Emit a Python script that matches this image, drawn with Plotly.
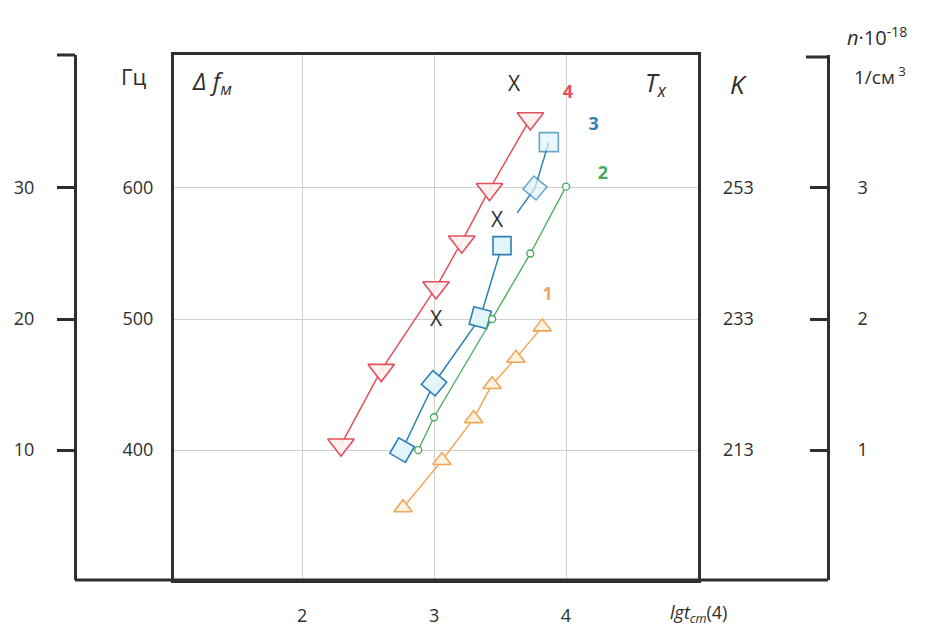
import plotly.graph_objects as go

# ---------------- data ----------------
x_ticks = [2, 3, 4]
y_ticks = [400, 500, 600]
hz_ticks = [10, 20, 30]
k_ticks = [213, 233, 253]
n_ticks = [1, 2, 3]

c4_x = [2.295, 2.60, 3.015, 3.21, 3.42, 3.73]
c4_y = [404, 461, 524, 559, 599, 653]

c3a_x = [2.758, 3.0, 3.35, 3.515]
c3a_y = [400, 451, 501, 556]
c3a_ang = [30, 40, 15, 0]
c3b_x = [3.63, 3.765, 3.87]
c3b_y = [581, 600, 635]
c3b_ang = [0, 40, 0]
c3b_size = [0, 17, 19]

c2_x = [2.88, 3.0, 3.44, 3.73, 4.0]
c2_y = [400, 425, 500, 550, 601]

c1_x = [2.765, 3.06, 3.30, 3.44, 3.62, 3.82]
c1_y = [356, 392, 424, 450, 470, 494]

xmark_x = [3.606, 3.477, 3.015]
xmark_y = [678, 574, 499]

lbl_text = ["4", "3", "2", "1"]
lbl_x = [4.015, 4.21, 4.28, 3.86]
lbl_y = [672, 648, 610, 518]

RED = "#e2505c"
BLUE = "#2f7fb5"
GREEN = "#45aa5e"
ORANGE = "#f0a85a"
DARK = "#2e2e2e"
FONT = "Open Sans"

# ---------------- geometry helpers ----------------
L, R, T, B = 75, 828, 55, 580  # outer frame pixels
def px(p):
    return (p - L) / (R - L)
def py(p):
    return (B - p) / (B - T)

XR = [1.03, 5.0]
YR = [300.8, 701.5]

fig = go.Figure()

fig.add_trace(go.Scatter(x=c4_x, y=c4_y, mode="lines+markers",
                         line=dict(color=RED, width=1.5),
                         marker=dict(symbol="triangle-down", size=23, color="rgba(255,242,242,0.9)",
                                     line=dict(color=RED, width=1.6))))
fig.add_trace(go.Scatter(x=c3a_x, y=c3a_y, mode="lines+markers",
                         line=dict(color=BLUE, width=1.5),
                         marker=dict(symbol="square", size=18, angle=c3a_ang, color="#e2f5fb",
                                     line=dict(color=BLUE, width=1.6))))
fig.add_trace(go.Scatter(x=c3b_x, y=c3b_y, mode="lines+markers",
                         line=dict(color=BLUE, width=1.5),
                         marker=dict(symbol="square", size=c3b_size, angle=c3b_ang, color="#e2f5fb",
                                     line=dict(color=BLUE, width=1.6))))
fig.add_trace(go.Scatter(x=c2_x, y=c2_y, mode="lines+markers",
                         line=dict(color=GREEN, width=1.3),
                         marker=dict(symbol="circle", size=7, color="white",
                                     line=dict(color=GREEN, width=1.3))))
fig.add_trace(go.Scatter(x=c1_x, y=c1_y, mode="lines+markers",
                         line=dict(color=ORANGE, width=1.5),
                         marker=dict(symbol="triangle-up", size=16, color="#fdf1e0",
                                     line=dict(color=ORANGE, width=1.6))))
fig.add_trace(go.Scatter(x=xmark_x, y=xmark_y, mode="text", text=["X"] * len(xmark_x),
                         textfont=dict(family=FONT, size=21, color=DARK)))
fig.add_trace(go.Scatter(x=lbl_x, y=lbl_y, mode="text", text=["<b>%s</b>" % t for t in lbl_text],
                         textfont=dict(family=FONT, size=18, color=[RED, BLUE, GREEN, ORANGE])))

# empty traces to attach the secondary axes
for ax in ["y2", "y3", "y4"]:
    fig.add_trace(go.Scatter(x=[None], y=[None], yaxis=ax, showlegend=False, hoverinfo="skip"))

tickfont = dict(family=FONT, size=18, color=DARK)

fig.update_layout(
    width=930, height=632,
    margin=dict(l=L, r=930 - R, t=T, b=632 - B, autoexpand=False),
    paper_bgcolor="white", plot_bgcolor="white",
    showlegend=False,
    xaxis=dict(domain=[px(174), px(698)], range=XR, tickvals=x_ticks, automargin=False,
               showgrid=True, gridcolor="#cfcfcf", gridwidth=1, zeroline=False,
               showline=True, linecolor=DARK, linewidth=3, mirror=True,
               ticks="", tickfont=tickfont, ticklabelstandoff=17),
    yaxis=dict(range=YR, tickvals=y_ticks, anchor="x", automargin=False,
               showgrid=True, gridcolor="#cfcfcf", gridwidth=1, zeroline=False,
               showline=True, linecolor=DARK, linewidth=3, mirror=True,
               ticks="", tickfont=tickfont, ticklabelstandoff=14),
    yaxis2=dict(range=[(YR[0] - 300) / 10, (YR[1] - 300) / 10], tickvals=hz_ticks,
                overlaying="y", anchor="free", position=0, side="left", automargin=False,
                showgrid=False, zeroline=False, showline=True, linecolor=DARK, linewidth=3,
                ticks="outside", ticklen=17, tickwidth=3, tickcolor=DARK,
                tickfont=tickfont, ticklabelstandoff=19),
    yaxis3=dict(range=[133 + YR[0] / 5, 133 + YR[1] / 5], tickvals=k_ticks,
                overlaying="y", anchor="x", side="right", automargin=False,
                showgrid=False, zeroline=False, showline=False, ticks="",
                tickfont=tickfont, ticklabelstandoff=24),
    yaxis4=dict(range=[(YR[0] - 300) / 100, (YR[1] - 300) / 100], tickvals=n_ticks,
                overlaying="y", anchor="free", position=1, side="right", automargin=False,
                showgrid=False, zeroline=False, showline=True, linecolor=DARK, linewidth=3,
                ticks="inside", ticklen=17, tickwidth=3, tickcolor=DARK,
                tickfont=tickfont, ticklabelstandoff=24),
)

# outer frame: bottom line and top end ticks
fig.add_shape(type="line", xref="paper", yref="paper", x0=0, x1=1, y0=0, y1=0,
              line=dict(color=DARK, width=3))
fig.add_shape(type="line", xref="paper", yref="paper", x0=px(57), x1=0, y0=1, y1=1,
              line=dict(color=DARK, width=3))
fig.add_shape(type="line", xref="paper", yref="paper", x0=px(806), x1=1, y0=py(57), y1=py(57),
              line=dict(color=DARK, width=3))

def ann(text, x, y, size, xanchor="center"):
    fig.add_annotation(text=text, xref="paper", yref="paper", x=px(x), y=py(y),
                       showarrow=False, xanchor=xanchor, yanchor="middle",
                       font=dict(family=FONT, size=size, color=DARK))

ann("Гц", 133, 76, 22)
ann("<i>Δ f</i><sub><i>м</i></sub>", 212, 82, 24)
ann("<i>T</i><sub><i>x</i></sub>", 655, 84, 25)
ann("<i>K</i>", 738, 84, 26)
ann("<i>n</i>·10<sup>-18</sup>", 877, 36, 20)
ann("1/см<sup> 3</sup>", 880, 76, 19)
ann("<i>lgt</i><sub><i>cm</i></sub>(4)", 668, 613, 18, xanchor="left")

fig.write_html("out.html")
